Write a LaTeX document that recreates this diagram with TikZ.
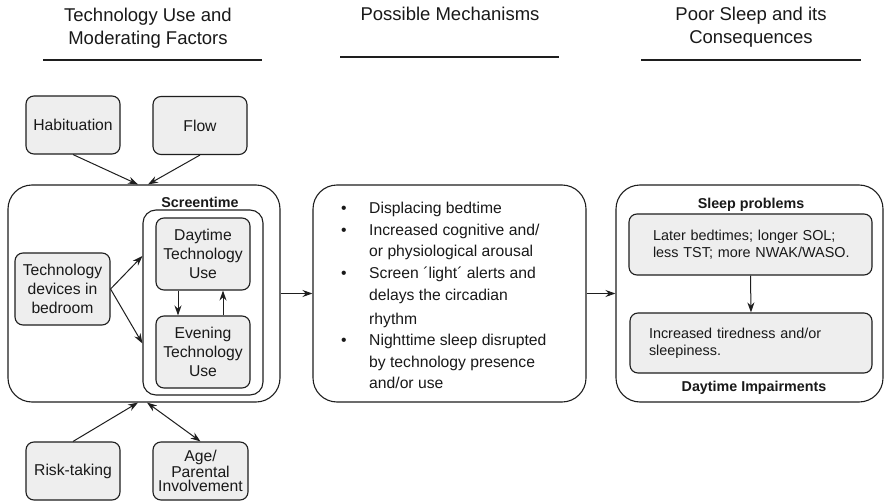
\documentclass[tikz,border=0pt]{standalone}
\usepackage{fontspec}
\setmainfont{Liberation Sans}
\usetikzlibrary{arrows.meta,calc}
\definecolor{boxgray}{RGB}{238,238,238}
\definecolor{linec}{RGB}{30,30,30}
\definecolor{txtc}{RGB}{25,25,25}
\newcommand\bodyf{\fontsize{15.7}{19.3}\selectfont}
\newcommand\agef{\fontsize{15.7}{14.6}\selectfont}
\newcommand\hdrf{\fontsize{18.5}{23}\selectfont}
\newcommand\boldf{\fontsize{14.3}{17}\selectfont\bfseries}
\newcommand\smf{\fontsize{14.4}{17.2}\selectfont}
\newcommand\midf{\fontsize{15.7}{21.5}\selectfont}
\newcommand\bul{\makebox[28pt][l]{\textbullet}}
\newcommand\ind{\hspace*{28pt}}
\begin{document}
\begin{tikzpicture}[x=1pt,y=-1pt,
  every node/.style={text=txtc},
  sbox/.style={draw=linec, fill=boxgray, rounded corners=8pt, line width=1.1pt,
    minimum width=94pt, minimum height=58pt, inner sep=0pt, align=center, font=\bodyf},
  bigbox/.style={draw=linec, fill=white, rounded corners=24pt, line width=1.1pt, inner sep=0pt},
  arr/.style={-{Stealth[length=10pt,width=7pt]}, line width=1pt, draw=linec},
  darr/.style={{Stealth[length=10pt,width=7pt]}-{Stealth[length=10pt,width=7pt]}, line width=1pt, draw=linec},
  hdr/.style={font=\hdrf, align=center, anchor=north, inner sep=0pt},
  hline/.style={line width=1.3pt, draw=linec},
  lbl/.style={font=\boldf, inner sep=0pt}
]
\fill[white] (0,0) rectangle (886,503);
\path[use as bounding box] (0,0) rectangle (886,503);

% headers
\node[hdr] (h1) at (148,8) {Technology Use and\\Moderating Factors};
\node[hdr] (h2) at (450,7) {Possible Mechanisms};
\node[hdr] (h3) at (751,7) {Poor Sleep and its\\Consequences};
\draw[hline] (43,60) -- (262,60);
\draw[hline] (340,57) -- (559,57);
\draw[hline] (641,60) -- (861,60);

% left column
\node[sbox] (hab) at (73,125) {Habituation};
\node[sbox] (flow) at (200,125.5) {Flow};
\node[bigbox, minimum width=272pt, minimum height=217pt] (outer) at (144,293.5) {};
\node[lbl] (st) at (200,202) {Screentime};
\node[draw=linec, fill=white, rounded corners=13pt, line width=1.1pt, inner sep=0pt,
  minimum width=120pt, minimum height=185pt] (inner) at (203,302.5) {};
\node[sbox, minimum height=72pt] (day) at (203,254) {Daytime\\Technology\\Use};
\node[sbox, minimum height=72pt] (eve) at (203,352) {Evening\\Technology\\Use};
\node[sbox, minimum width=95pt, minimum height=72pt] (tech) at (62.5,289) {Technology\\devices in\\bedroom};
\node[sbox] (risk) at (73,471) {Risk-taking};
\node[sbox, minimum width=95pt, font=\agef] (age) at (200.5,471) {Age/\\Parental\\Involvement};

% middle
\node[bigbox, minimum width=273pt, minimum height=217pt] (mid) at (449.5,293.5) {};
\node[anchor=north west, inner sep=0pt, align=left, font=\midf] (mtext) at (341,202) {%
\bul Displacing bedtime\\
\bul Increased cognitive and/\\
\ind or physiological arousal\\
\bul Screen ´light´ alerts and\\[1pt]
\ind delays the circadian\\[2pt]
\ind rhythm\\
\bul Nighttime sleep disrupted\\
\ind by technology presence\\
\ind and/or use};

% right
\node[bigbox, minimum width=267pt, minimum height=217pt] (right) at (749.5,293.5) {};
\node[lbl] (sp) at (751,205) {Sleep problems};
\node[sbox, minimum width=243pt, minimum height=61pt, text width=215pt, align=left, font=\smf] (sleep) at (750.5,244.5) {\hspace*{10pt}Later bedtimes; longer SOL;\\\hspace*{10pt}less TST; more NWAK/WASO.};
\node[sbox, minimum width=242pt, minimum height=60pt, text width=204pt, align=left, font=\smf] (tired) at (751,343) {Increased tiredness and/or\\sleepiness.};
\node[lbl] (di) at (754,388) {Daytime Impairments};

% connectors
\draw[arr] (hab.south) -- ($(outer.north)+(-6,0)$);
\draw[arr] (flow.south) -- ($(outer.north)+(4,0)$);
\draw[arr] (risk.north) -- ($(outer.south)+(-6,0)$);
\draw[darr] ($(outer.south)+(3,0)$) -- (age.north);
\draw[arr] (tech.east) -- ($(inner.west)+(0,-46.5)$);
\draw[arr] (tech.east) -- ($(inner.west)+(0,41)$);
\draw[arr] ($(day.south)+(-25,0)$) -- ($(eve.north)+(-25,0)$);
\draw[arr] ($(eve.north)+(20,0)$) -- ($(day.south)+(20,0)$);
\draw[arr] (outer.east) -- (mid.west);
\draw[arr] (mid.east) -- (right.west);
\draw[arr] (sleep.south) -- (tired.north);
\end{tikzpicture}
\end{document}
